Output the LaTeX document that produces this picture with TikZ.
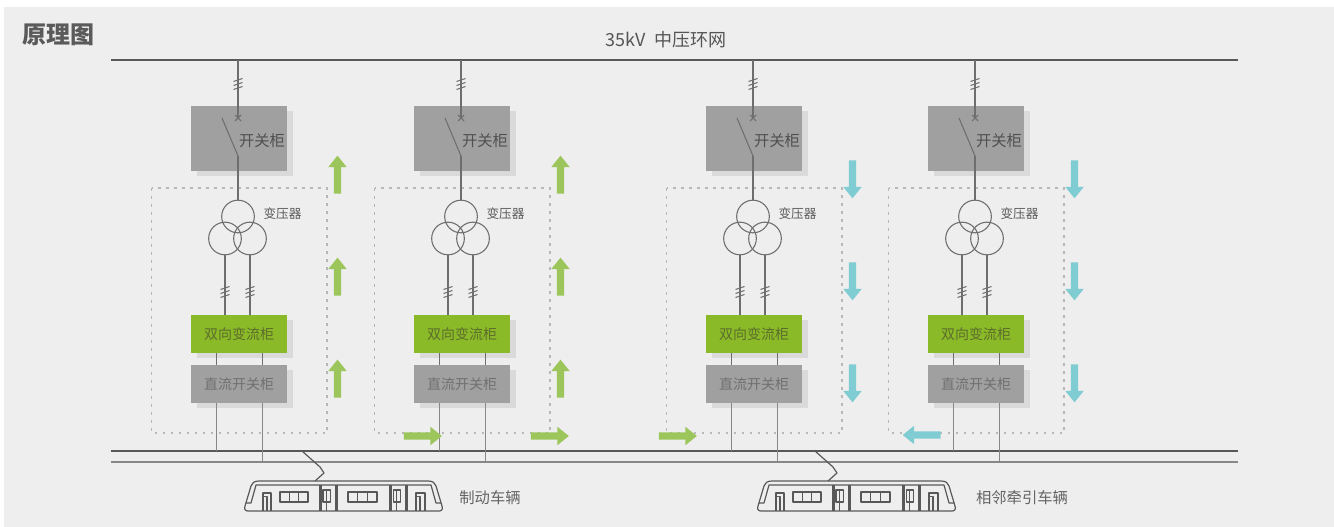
\documentclass[tikz,border=0pt]{standalone}
\usepackage{fontspec}
\setmainfont{Noto Sans CJK SC}
\usetikzlibrary{shapes.arrows,shadows,calc}
\definecolor{panel}{RGB}{237,238,237}
\definecolor{busgray}{RGB}{88,88,88}
\definecolor{wiregray}{RGB}{110,110,110}
\definecolor{dropgray}{RGB}{135,135,135}
\definecolor{cabgray}{RGB}{159,160,159}
\definecolor{shadegray}{RGB}{217,218,217}
\definecolor{cabgreen}{RGB}{139,186,41}
\definecolor{flowgreen}{RGB}{156,198,91}
\definecolor{flowcyan}{RGB}{128,204,211}
\definecolor{dotgray}{RGB}{182,183,182}
\definecolor{textgray}{RGB}{90,90,90}
\definecolor{olivetext}{RGB}{92,110,42}
\tikzset{
    every node/.style={inner sep=0pt, text=textgray}
}
\tikzset{
    bus/.style={draw=busgray, line width=1.1pt},
    rail/.style={draw=dropgray, line width=1.3pt},
    feeder/.style={draw=wiregray, line width=0.8pt},
    drop/.style={draw=dropgray, line width=1pt},
    station/.style={draw=dotgray, line width=1.1pt, dash pattern=on 2.2pt off 3.8pt},
    cab/.style={rectangle, fill=cabgray, minimum width=72pt,
        general shadow={fill=shadegray, shadow xshift=4.5pt, shadow yshift=-4pt}},
    swcab/.style={cab, minimum height=48.75pt},
    convcab/.style={cab, fill=cabgreen, minimum height=28.5pt, text=olivetext,
        font=\fontsize{10.5pt}{12pt}\selectfont},
    dccab/.style={cab, minimum height=28.5pt, text={rgb,255:red,112;green,112;blue,112},
        font=\fontsize{10.5pt}{12pt}\selectfont},
    cabtext/.style={font=\fontsize{11.5pt}{13pt}\selectfont, text={rgb,255:red,80;green,80;blue,80}},
    tfm/.style={circle, draw=wiregray, line width=0.8pt, minimum size=24.5pt},
    tfmtext/.style={font=\fontsize{9.5pt}{11pt}\selectfont},
    tramtext/.style={font=\fontsize{11.5pt}{13pt}\selectfont, text={rgb,255:red,100;green,100;blue,100}},
    flow/.style={single arrow, minimum height=28.5pt, inner sep=2.6pt,
        single arrow head extend=4.1pt, single arrow head indent=0pt,
        single arrow tip angle=78, draw=none},
    tramline/.style={draw=busgray, line width=0.9pt, line join=round},
    cablemark/.pic={
        \foreach \d in {-4,0,4}
            \draw[feeder] (-4.5,\d+1.5) -- (4.5,\d-1.5);
    },
    breakmark/.pic={
        \draw[feeder] (-3,-3) -- (3,3) (-3,3) -- (3,-3);
    },
    tram/.pic={
        \draw[tramline] (14,0) -- (183,0) .. controls (188,0) and (190,2) .. (191,5)
            -- (197,25) .. controls (198,28) and (197,30) .. (194,30) -- (3,30)
            .. controls (0,30) and (-1,28) .. (0,25) -- (6,5)
            .. controls (7,2) and (9,0) .. (14,0) -- cycle;
        \draw[tramline] (1,22) -- (6,22) -- (11,4) -- (186,4) -- (191,22) -- (196,22);
        % end doors
        \draw[tramline] (18,30) -- (18,12) -- (26,12) -- (26,30) (18,15.5) -- (22,15.5) -- (22,30);
        \draw[tramline] (171,30) -- (171,12) -- (180,12) -- (180,30) (171,15.5) -- (175,15.5) -- (175,30);
        % windows
        \draw[tramline] (35,11) rectangle (63,21) (44.3,11) -- (44.3,21) (53.6,11) -- (53.6,21);
        \draw[tramline] (103,11) rectangle (132,21) (112.7,11) -- (112.7,21) (122.3,11) -- (122.3,21);
        % car joints
        \draw[tramline] (74.3,4) -- (74.3,30) (76,4) -- (76,30) (91,4) -- (91,30) (92.3,4) -- (92.3,30);
        \draw[tramline] (78,9) rectangle (85.5,21) (81.7,9) -- (81.7,30);
        \draw[tramline] (144.3,4) -- (144.3,30) (146,4) -- (146,30) (160.7,4) -- (160.7,30) (162,4) -- (162,30);
        \draw[tramline] (148.3,9) rectangle (155.5,21) (151.7,9) -- (151.7,30);
        % pantograph
        \draw[tramline] (70,0) -- (79,-8) -- (75,-14) -- (57,-30);
    }
}
\begin{document}
\begin{tikzpicture}[x=0.75pt, y=-0.75pt]
    \useasboundingbox (0,0) rectangle (1334,527);
    \fill[white] (0,0) rectangle (1334,527);
    \fill[panel] (4,7) rectangle (1334,527);

    \node (title) [anchor=west, font=\fontsize{18pt}{20pt}\selectfont\bfseries] at (22,35) {原理图};
    \node (busname) [font=\fontsize{13.5pt}{15pt}\selectfont, text={rgb,255:red,85;green,85;blue,85}] at (666,40) {35kV\ \ 中压环网};

    \coordinate (busw) at (111,60);
    \coordinate (buse) at (1238,60);
    \coordinate (railw) at (111,451);
    \coordinate (raile) at (1238,451);
    \coordinate (feedw) at (111,462);
    \coordinate (feede) at (1238,462);
    \draw[bus] (busw) -- (buse);
    \draw[bus] (railw) -- (raile);
    \draw[rail] (feedw) -- (feede);

    \foreach \i/\L/\rot/\col in {1/191/90/flowgreen, 2/414/90/flowgreen, 3/706/270/flowcyan, 4/928/270/flowcyan}{
        % station boundary
        \draw[station] (\L-39.5,188) rectangle (\L+136,433);
        % 35kV switchgear
        \node[swcab] (sw\i) at (\L+48,138.5) {};
        \node[cabtext] (swl\i) at (\L+71,141) {开关柜};
        \coordinate (tap\i) at (\L+47,60);
        \coordinate (brk\i) at (\L+47,118);
        \coordinate (bla\i) at (\L+31,118);
        \coordinate (blb\i) at (\L+47,156);
        \draw[feeder] (tap\i) -- (brk\i);
        \pic at (\L+47,84) {cablemark};
        \pic at (brk\i) {breakmark};
        \draw[feeder] (bla\i) -- (blb\i);
        % transformer
        \node[tfm] (tfa\i) at (\L+47,216.5) {};
        \node[tfm] (tfb\i) at (\L+34,238.5) {};
        \node[tfm] (tfc\i) at (\L+59,238.5) {};
        \node[tfmtext] (tfl\i) at (\L+91.5,214) {变压器};
        \draw[feeder] (blb\i) -- (tfa\i.north);
        % converter and dc switchgear
        \node[convcab] (cv\i) at (\L+48,334) {双向变流柜};
        \node[dccab] (dc\i) at (\L+48,384) {直流开关柜};
        \draw[feeder] (tfb\i.south) -- (tfb\i.south |- cv\i.north);
        \draw[feeder] (tfc\i.south) -- (tfc\i.south |- cv\i.north);
        \pic at (\L+34,292) {cablemark};
        \pic at (\L+59,292) {cablemark};
        \coordinate (pa\i) at ($(cv\i.south west)+(26,0)$);
        \coordinate (pb\i) at ($(cv\i.south west)+(72,0)$);
        \draw[feeder] (pa\i) -- (pa\i |- dc\i.north);
        \draw[feeder] (pb\i) -- (pb\i |- dc\i.north);
        \coordinate (qa\i) at ($(dc\i.south west)+(26,0)$);
        \coordinate (qb\i) at ($(dc\i.south west)+(72,0)$);
        \draw[drop] (qa\i) -- (qa\i |- railw);
        \draw[drop] (qb\i) -- (qb\i |- feedw);
        % power flow
        \foreach \y [count=\k] in {177,279,381}
            \node[flow, fill=\col, shape border rotate=\rot] (pf\i\k) at (\L+146.5,\y) {};
    }

    \node[flow, fill=flowgreen] (out1) at (420.5,436) {};
    \node[flow, fill=flowgreen] (out2) at (547.5,436) {};
    \node[flow, fill=flowgreen] (out3) at (675.5,436) {};
    \node[flow, fill=flowcyan, shape border rotate=180] (in4) at (924,435) {};

    \pic (brake) at (245,481) {tram};
    \pic (traction) at (758,481) {tram};
    \node[tramtext] (brakel) at (490,498) {制动车辆};
    \node[tramtext] (tractl) at (1022,498) {相邻牵引车辆};
\end{tikzpicture}
\end{document}
